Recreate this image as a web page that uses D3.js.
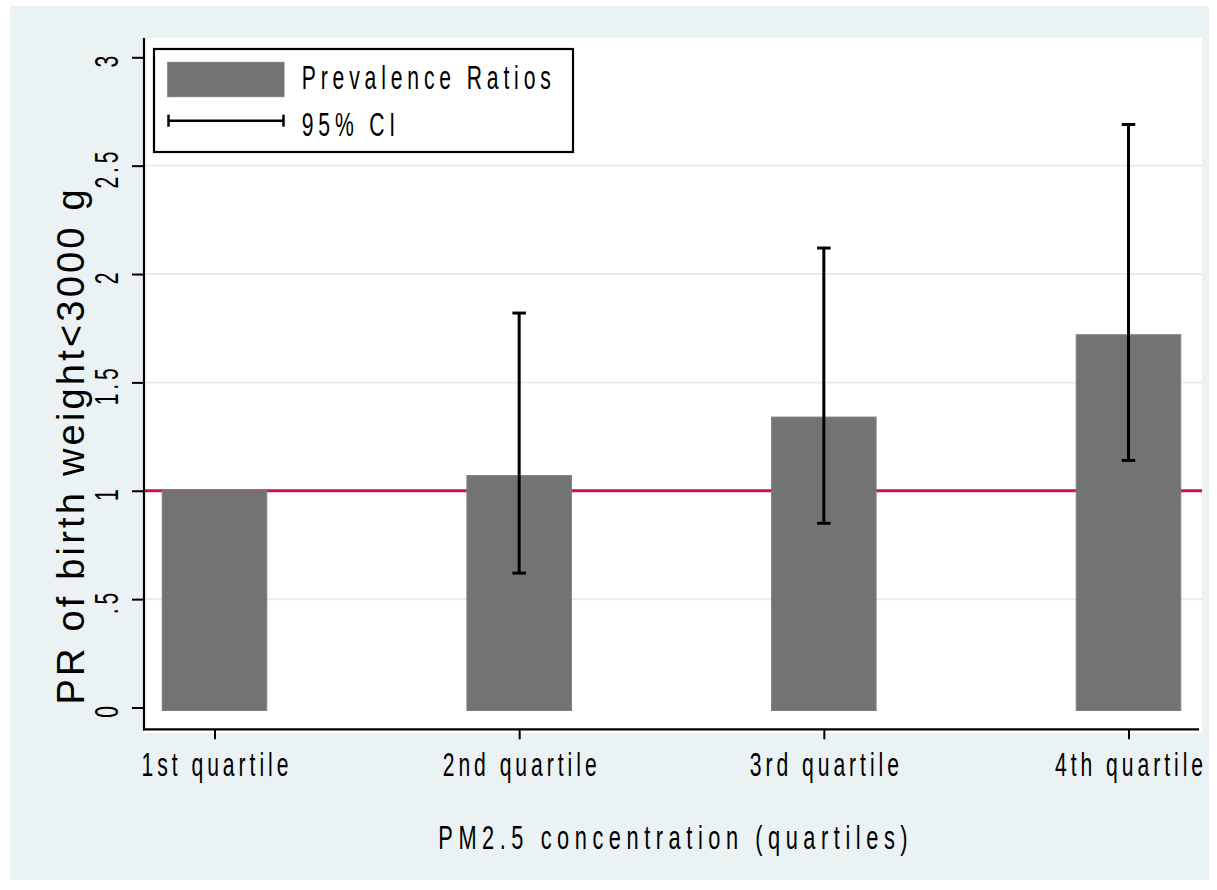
<!DOCTYPE html>
<html>
<head>
<meta charset="utf-8">
<script src="https://cdn.jsdelivr.net/npm/d3@7"></script>
<style>
  html, body { margin: 0; padding: 0; background: #ffffff; }
  svg { display: block; }
  text { font-family: "Liberation Sans", Arial, sans-serif; fill: #000; }
</style>
</head>
<body>
<svg id="chart" width="1217" height="890"></svg>
<script>
// Prevalence ratios of birth weight < 3000 g by PM2.5 quartile
const categories = ["1st quartile", "2nd quartile", "3rd quartile", "4th quartile"];
const prValues   = [1.00, 1.07, 1.34, 1.72];
const ciLower    = [null, 0.62, 0.85, 1.14];   // reference group has no interval
const ciUpper    = [null, 1.82, 2.12, 2.69];
const yTickValues = [0, 0.5, 1, 1.5, 2, 2.5, 3];
const yTickLabels = ["0", ".5", "1", "1.5", "2", "2.5", "3"];
const gridValues  = [0.5, 1, 1.5, 2, 2.5];
const referenceValue = 1;
const legendLabels = ["Prevalence Ratios", "95% CI"];
const xTitle = "PM2.5 concentration (quartiles)";
const yTitle = "PR of birth weight<3000 g";

const svg = d3.select("#chart");

const bgColor = "#eaf2f3";
const gridColor = "#e5edf0";
const barColor = "#737373";
const barStroke = "#7e7e7e";
const refColor = "#cc1248";
const fontStack = "'Liberation Sans', Arial, sans-serif";

// Plot region
const plot = { left: 144, right: 1202, top: 38, bottom: 733 };
const axisY = 729.3;

const x = d3.scalePoint().domain(categories).range([214.5, 1128.5]);
const y = d3.scaleLinear().domain([0, 3]).range([707.5, 57.3]);
const barWidth = 104.5;
const capWidth = 13.5;

// Graph region background
svg.append("rect").attr("x", 10).attr("y", 6).attr("width", 1199).attr("height", 874)
  .attr("fill", bgColor);
svg.append("rect").attr("x", plot.left).attr("y", plot.top)
  .attr("width", plot.right - plot.left).attr("height", plot.bottom - plot.top)
  .attr("fill", "#ffffff");

// Grid lines
svg.append("g").selectAll("line").data(gridValues).join("line")
  .attr("x1", plot.left).attr("x2", plot.right)
  .attr("y1", d => y(d)).attr("y2", d => y(d))
  .attr("stroke", gridColor).attr("stroke-width", 2);

// Reference line at PR = 1
svg.append("line")
  .attr("x1", plot.left).attr("x2", plot.right)
  .attr("y1", y(referenceValue)).attr("y2", y(referenceValue))
  .attr("stroke", refColor).attr("stroke-width", 2.8);

// Bars
svg.append("g").selectAll("rect").data(categories).join("rect")
  .attr("x", d => x(d) - barWidth / 2)
  .attr("y", (d, i) => y(prValues[i]))
  .attr("width", barWidth)
  .attr("height", (d, i) => y(0) + 3 - y(prValues[i]))
  .attr("fill", barColor).attr("stroke", barStroke).attr("stroke-width", 1);

// Confidence intervals
const ciData = categories.map((c, i) => ({ c, lo: ciLower[i], hi: ciUpper[i] }))
  .filter(d => d.lo !== null);
const ci = svg.append("g").attr("stroke", "#000").attr("stroke-width", 3);
ci.selectAll("line.stem").data(ciData).join("line").attr("class", "stem")
  .attr("x1", d => x(d.c)).attr("x2", d => x(d.c))
  .attr("y1", d => y(d.hi)).attr("y2", d => y(d.lo));
ci.selectAll("line.capHi").data(ciData).join("line").attr("class", "capHi")
  .attr("x1", d => x(d.c) - capWidth / 2).attr("x2", d => x(d.c) + capWidth / 2)
  .attr("y1", d => y(d.hi)).attr("y2", d => y(d.hi));
ci.selectAll("line.capLo").data(ciData).join("line").attr("class", "capLo")
  .attr("x1", d => x(d.c) - capWidth / 2).attr("x2", d => x(d.c) + capWidth / 2)
  .attr("y1", d => y(d.lo)).attr("y2", d => y(d.lo));

// Y axis
const yAxis = d3.axisLeft(y).tickValues(yTickValues)
  .tickFormat((d, i) => yTickLabels[i]).tickSize(12).tickSizeOuter(0);
const gy = svg.append("g").attr("transform", `translate(${plot.left},0)`).call(yAxis);
gy.select(".domain").remove();
gy.selectAll(".tick line").attr("stroke", "#000").attr("stroke-width", 2);
gy.selectAll(".tick text")
  .attr("x", null).attr("dy", null)
  .attr("text-anchor", "middle")
  .attr("font-size", 33)
  .attr("letter-spacing", 6)
  .attr("transform", "translate(-26,2) rotate(-90) scale(0.64,1)")
  .style("font-family", fontStack);

// X axis
const xAxis = d3.axisBottom(x).tickSize(10).tickSizeOuter(0);
const gx = svg.append("g").attr("transform", `translate(0,${axisY})`).call(xAxis);
gx.select(".domain").remove();
gx.selectAll(".tick line").attr("stroke", "#000").attr("stroke-width", 2);
gx.selectAll(".tick text")
  .attr("y", null).attr("dy", null)
  .attr("text-anchor", "middle")
  .attr("font-size", 33)
  .attr("letter-spacing", 6.2)
  .attr("transform", "translate(2,46.7) scale(0.64,1)")
  .style("font-family", fontStack);

// Axis lines along the plot region edges
svg.append("line").attr("x1", plot.left).attr("x2", plot.left)
  .attr("y1", plot.top).attr("y2", axisY + 1)
  .attr("stroke", "#000").attr("stroke-width", 2.2);
svg.append("line").attr("x1", plot.left - 1).attr("x2", plot.right - 3)
  .attr("y1", axisY).attr("y2", axisY)
  .attr("stroke", "#000").attr("stroke-width", 2.2);

// Axis titles
svg.append("text")
  .attr("transform", "translate(673,849.3) scale(0.64,1)")
  .attr("text-anchor", "middle")
  .attr("font-size", 34)
  .attr("letter-spacing", 8.7)
  .attr("dx", 4.3)
  .text(xTitle);

svg.append("text")
  .attr("transform", "translate(84,447) rotate(-90)")
  .attr("text-anchor", "middle")
  .attr("font-size", 38)
  .attr("letter-spacing", 3.2)
  .attr("dx", 1.6)
  .text(yTitle);

// Legend
const legend = svg.append("g");
legend.append("rect").attr("x", 154).attr("y", 49).attr("width", 419).attr("height", 103)
  .attr("fill", "#ffffff").attr("stroke", "#000").attr("stroke-width", 2.2);
legend.append("rect").attr("x", 167.7).attr("y", 62.3).attr("width", 116.3).attr("height", 34.4)
  .attr("fill", barColor).attr("stroke", barStroke).attr("stroke-width", 1);
const lg = legend.append("g").attr("stroke", "#000").attr("stroke-width", 2.5);
lg.append("line").attr("x1", 168).attr("x2", 284).attr("y1", 120.7).attr("y2", 120.7);
lg.append("line").attr("x1", 168.5).attr("x2", 168.5).attr("y1", 114.7).attr("y2", 126.7);
lg.append("line").attr("x1", 283.5).attr("x2", 283.5).attr("y1", 114.7).attr("y2", 126.7);
legend.append("text")
  .attr("transform", "translate(301.7,89.3) scale(0.64,1)")
  .attr("font-size", 33)
  .attr("letter-spacing", 7.6)
  .text(legendLabels[0]);
legend.append("text")
  .attr("transform", "translate(301.7,136) scale(0.64,1)")
  .attr("font-size", 33)
  .attr("letter-spacing", 7.6)
  .text(legendLabels[1]);
</script>
</body>
</html>
